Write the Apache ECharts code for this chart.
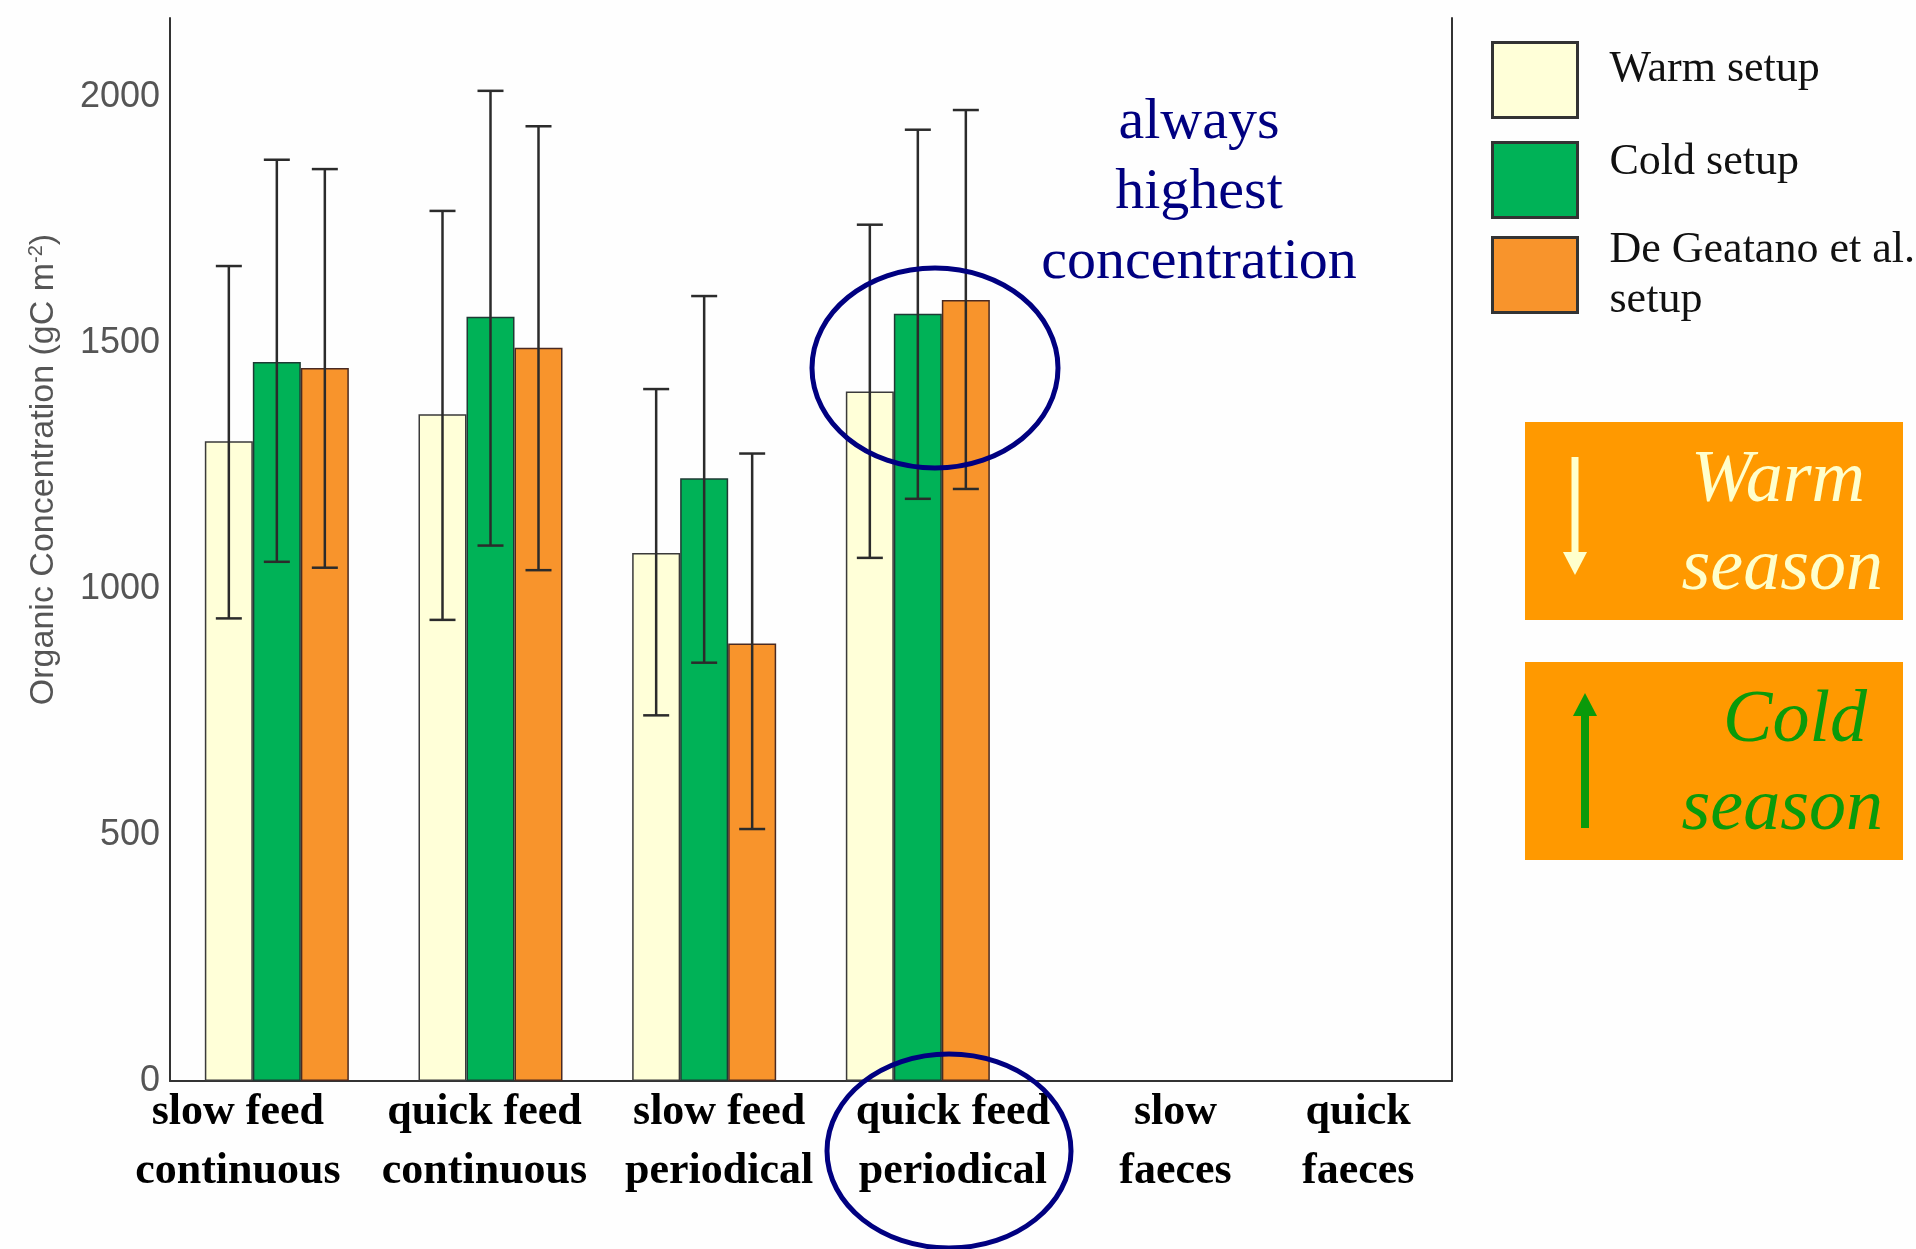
<!DOCTYPE html>
<html>
<head>
<meta charset="utf-8">
<title>Organic Concentration by setup</title>
<script src="https://cdn.jsdelivr.net/npm/echarts@6/dist/echarts.min.js"></script>
<style>
  html, body { margin: 0; padding: 0; background: #fefefe; }
  #chart { width: 1916px; height: 1249px; }
</style>
</head>
<body>
<div id="chart"></div>
<script>
// Feeding scenarios on the x axis (two-line labels)
const categories = [
  'slow feed\ncontinuous',
  'quick feed\ncontinuous',
  'slow feed\nperiodical',
  'quick feed\nperiodical',
  'slow\nfaeces',
  'quick\nfaeces'
];

// Mean organic concentration (gC m-2) per setup; faeces scenarios have no data
const warmSetup = [1300, 1355, 1073, 1401, null, null];
const coldSetup = [1461, 1553, 1225, 1559, null, null];
const deGeatanoSetup = [1449, 1490, 889, 1587, null, null];

// Error bar ranges (low / high)
const warmLow = [940, 937, 743, 1063, null, null];
const warmHigh = [1656, 1768, 1406, 1740, null, null];
const coldLow = [1055, 1088, 850, 1183, null, null];
const coldHigh = [1872, 2012, 1595, 1933, null, null];
const deGeatanoLow = [1043, 1038, 512, 1203, null, null];
const deGeatanoHigh = [1853, 1940, 1275, 1973, null, null];

const seriesNames = ['Warm setup', 'Cold setup', 'De Geatano et al.\nsetup'];
const yTicks = [0, 500, 1000, 1500, 2000];

// horizontal nudges of the category labels (px)
const labelShift = [-39, -6, 15, 35, 44, 13];

const BAR_W = 48;
const colors = ['#FFFFD8', '#00B257', '#F8942C'];

const chart = echarts.init(document.getElementById('chart'));

function toBars(arr) {
  return arr.map(v => (v == null ? '-' : v));
}
function toErr(low, high) {
  const out = [];
  low.forEach((l, i) => {
    if (l != null && high[i] != null) out.push([i, l, high[i]]);
  });
  return out;
}

function errorSeries(name, data, offset) {
  return {
    type: 'custom',
    name: name + ' range',
    data: data,
    z: 5,
    silent: true,
    encode: { x: 0, y: [1, 2] },
    renderItem: function (params, api) {
      const x = api.coord([api.value(0), 0])[0] + offset;
      const yLo = api.coord([api.value(0), api.value(1)])[1];
      const yHi = api.coord([api.value(0), api.value(2)])[1];
      const cap = 13;
      const st = { stroke: '#2b2b2b', lineWidth: 2.5 };
      return {
        type: 'group',
        children: [
          { type: 'line', shape: { x1: x, y1: yLo, x2: x, y2: yHi }, style: st },
          { type: 'line', shape: { x1: x - cap, y1: yHi, x2: x + cap, y2: yHi }, style: st },
          { type: 'line', shape: { x1: x - cap, y1: yLo, x2: x + cap, y2: yLo }, style: st }
        ]
      };
    }
  };
}

// rich styles that nudge each category label sideways
const rich = {};
labelShift.forEach((d, i) => {
  rich['c' + i] = {
    fontFamily: 'Liberation Serif',
    fontWeight: 'bold',
    fontSize: 44,
    lineHeight: 59,
    color: '#000',
    align: 'center',
    padding: d >= 0 ? [0, 0, 0, 2 * d] : [0, -2 * d, 0, 0]
  };
});

const legendFont = {
  fontFamily: 'Liberation Serif',
  fontSize: 44,
  color: '#111'
};

// one legend block per setup; bottom padding lifts the text above the swatch centre
function legendBlock(name, top, padBottom, lineHeight) {
  return {
    data: [name],
    orient: 'vertical',
    left: 1486,
    top: top,
    itemWidth: 85,
    itemHeight: 75,
    icon: 'rect',
    selectedMode: false,
    itemStyle: { borderColor: '#333', borderWidth: 3 },
    formatter: function (n) {
      return n.split('\n').map(l => '{t|' + l + '}').join('\n');
    },
    textStyle: {
      padding: [0, 0, padBottom, 27],
      rich: { t: Object.assign({}, legendFont, lineHeight ? { lineHeight: lineHeight } : {}) }
    }
  };
}

const option = {
  backgroundColor: '#fefefe',
  animation: false,
  grid: { left: 170, right: 464, top: 18, bottom: 168 },
  legend: [
    legendBlock(seriesNames[0], 36, 21),
    legendBlock(seriesNames[1], 135, 36),
    legendBlock(seriesNames[2], 223, 0, 50)
  ],
  xAxis: {
    type: 'category',
    data: categories,
    axisLine: { lineStyle: { color: '#333', width: 2 } },
    axisTick: { show: false },
    axisLabel: {
      margin: 2,
      interval: 0,
      rich: rich,
      formatter: function (value, index) {
        return value.split('\n').map(l => '{c' + index + '|' + l + '}').join('\n');
      }
    }
  },
  yAxis: [
    {
      type: 'value',
      min: 0,
      max: 2160,
      interval: 500,
      axisLine: { show: true, lineStyle: { color: '#333', width: 2 } },
      axisTick: { show: false },
      splitLine: { show: false },
      axisLabel: {
        showMaxLabel: false,
        margin: 10,
        fontFamily: 'Liberation Sans',
        fontSize: 36,
        color: '#555',
        formatter: function (v) { return yTicks.indexOf(v) >= 0 ? String(v) : ''; }
      },
      name: '{a|Organic Concentration (gC m}{s|-2}{a|)}',
      nameLocation: 'middle',
      nameGap: 108,
      nameTextStyle: {
        padding: [0, 0, 0, 160],
        rich: {
          a: { fontFamily: 'Liberation Sans', fontSize: 34, color: '#555' },
          s: { fontFamily: 'Liberation Sans', fontSize: 20, color: '#555', verticalAlign: 'bottom', padding: [0, 0, 16, 0] }
        }
      }
    },
    {
      type: 'value',
      position: 'right',
      min: 0,
      max: 2160,
      axisLine: { show: true, lineStyle: { color: '#333', width: 2 } },
      axisTick: { show: false },
      axisLabel: { show: false },
      splitLine: { show: false }
    }
  ],
  series: [
    {
      type: 'bar', name: seriesNames[0], data: toBars(warmSetup), barWidth: BAR_W, barGap: '0%',
      itemStyle: { color: colors[0], borderColor: '#3a3a3a', borderWidth: 1.5 }
    },
    {
      type: 'bar', name: seriesNames[1], data: toBars(coldSetup), barWidth: BAR_W, barGap: '0%',
      itemStyle: { color: colors[1], borderColor: '#1f3a34', borderWidth: 1.5 }
    },
    {
      type: 'bar', name: seriesNames[2], data: toBars(deGeatanoSetup), barWidth: BAR_W, barGap: '0%',
      itemStyle: { color: colors[2], borderColor: '#4a2a22', borderWidth: 1.5 }
    },
    errorSeries(seriesNames[0], toErr(warmLow, warmHigh), -BAR_W),
    errorSeries(seriesNames[1], toErr(coldLow, coldHigh), 0),
    errorSeries(seriesNames[2], toErr(deGeatanoLow, deGeatanoHigh), BAR_W)
  ],
  graphic: [
    // comment text beside the highlighted group
    {
      type: 'text', z: 20,
      style: {
        text: 'always\nhighest\nconcentration',
        x: 1199, y: 88,
        align: 'center', verticalAlign: 'top',
        fontFamily: 'Liberation Serif', fontSize: 58, lineHeight: 70,
        fill: '#000080'
      }
    },
    {
      type: 'ellipse', z: 20,
      shape: { cx: 935, cy: 368, rx: 123, ry: 100 },
      style: { fill: null, stroke: '#000080', lineWidth: 5 }
    },
    {
      type: 'ellipse', z: 20,
      shape: { cx: 949, cy: 1151, rx: 122, ry: 97 },
      style: { fill: null, stroke: '#000080', lineWidth: 5 }
    },
    // season boxes
    { type: 'rect', z: 20, shape: { x: 1525, y: 422, width: 378, height: 198 }, style: { fill: '#FF9900' } },
    { type: 'rect', z: 20, shape: { x: 1525, y: 662, width: 378, height: 198 }, style: { fill: '#FF9900' } },
    {
      type: 'text', z: 21,
      style: { text: 'Warm', x: 1865, y: 482, align: 'right', verticalAlign: 'middle',
        fontFamily: 'Liberation Serif', fontStyle: 'italic', fontSize: 74, fill: '#FFFFCC' }
    },
    {
      type: 'text', z: 21,
      style: { text: 'season', x: 1883, y: 570, align: 'right', verticalAlign: 'middle',
        fontFamily: 'Liberation Serif', fontStyle: 'italic', fontSize: 74, fill: '#FFFFCC' }
    },
    {
      type: 'text', z: 21,
      style: { text: 'Cold', x: 1867, y: 722, align: 'right', verticalAlign: 'middle',
        fontFamily: 'Liberation Serif', fontStyle: 'italic', fontSize: 74, fill: '#0A9A0A' }
    },
    {
      type: 'text', z: 21,
      style: { text: 'season', x: 1883, y: 810, align: 'right', verticalAlign: 'middle',
        fontFamily: 'Liberation Serif', fontStyle: 'italic', fontSize: 74, fill: '#0A9A0A' }
    },
    // arrows
    { type: 'line', z: 21, shape: { x1: 1575, y1: 457, x2: 1575, y2: 556 }, style: { stroke: '#FFFFCC', lineWidth: 7 } },
    { type: 'polygon', z: 21, shape: { points: [[1563, 552], [1587, 552], [1575, 575]] }, style: { fill: '#FFFFCC' } },
    { type: 'line', z: 21, shape: { x1: 1585, y1: 828, x2: 1585, y2: 712 }, style: { stroke: '#0A9A0A', lineWidth: 8 } },
    { type: 'polygon', z: 21, shape: { points: [[1573, 716], [1597, 716], [1585, 693]] }, style: { fill: '#0A9A0A' } }
  ]
};

chart.setOption(option);
</script>
</body>
</html>
